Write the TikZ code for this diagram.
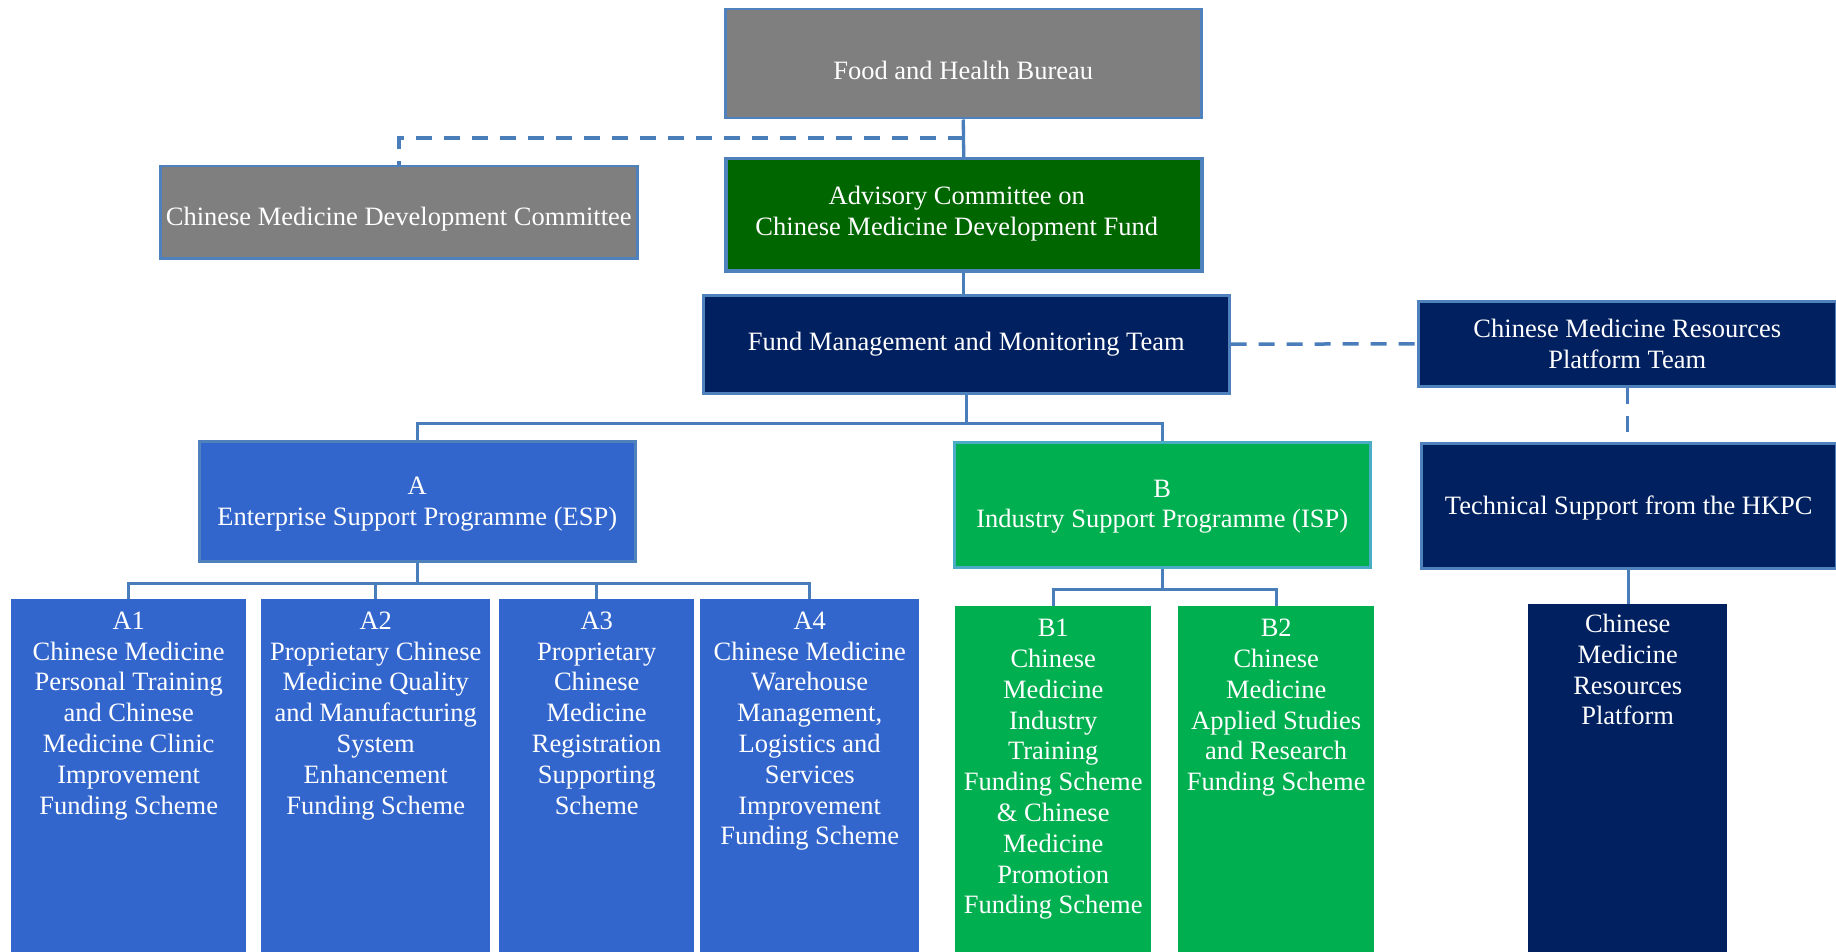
\documentclass[tikz,border=0pt]{standalone}
\usepackage{fontspec}
\setmainfont{Liberation Serif}
\usetikzlibrary{calc}
\definecolor{bordblue}{HTML}{4F81BD}
\definecolor{conn}{HTML}{4A7EBB}
\definecolor{boxgray}{HTML}{7F7F7F}
\definecolor{dkgreen}{HTML}{006600}
\definecolor{navy}{HTML}{002060}
\definecolor{royal}{HTML}{3366CC}
\definecolor{brgreen}{HTML}{00B050}
\definecolor{teal}{HTML}{4BACC6}
\tikzset{
  txt/.style={text=white, font=\fontsize{26.5pt}{30.8pt}\selectfont, align=center, inner sep=0pt},
  box/.style={txt, draw=bordblue, line width=2.5pt, anchor=north west},
  col/.style={fill=#1, anchor=north west, inner sep=0pt, draw=none},
  conline/.style={draw=conn, line width=3.3pt},
  dashline/.style={draw=conn, line width=3.5pt, dash pattern=on 16pt off 12pt},
}
\begin{document}
\begin{tikzpicture}[x=1pt,y=-1pt]
\path[use as bounding box, fill=white] (0,0) rectangle (1836,952);

% top boxes
\node[box, fill=boxgray, minimum width=476pt, minimum height=109pt] (fhb) at (724,8) {};
\node[txt] (fhbt) at ($(fhb.center)+(0,7)$) {Food and Health Bureau};
\node[box, fill=boxgray, minimum width=477pt, minimum height=92pt] (cmdc) at (159,165) {};
\node[txt] (cmdct) at ($(cmdc.center)+(0,7)$) {Chinese Medicine Development Committee};
\node[box, fill=dkgreen, line width=3.5pt, minimum width=476pt, minimum height=112pt] (adv) at (724,157) {};
\node[txt] (advt) at ($(adv.center)+(-7,-1)$) {Advisory Committee on\\Chinese Medicine Development Fund};
\node[box, fill=navy, minimum width=526pt, minimum height=98pt] (fmmt) at (702,294) {Fund Management and Monitoring Team};
\node[box, fill=navy, minimum width=418pt, minimum height=85pt] (cmrpt) at (1417,300) {Chinese Medicine Resources\\Platform Team};
\node[box, fill=navy, minimum width=415pt, minimum height=125pt] (ts) at (1420,442) {};
\node[txt] (tst) at ($(ts.center)+(0,2)$) {Technical Support from the HKPC};

% programmes
\node[box, fill=royal, minimum width=436pt, minimum height=120pt] (a) at (198,440) {};
\node[txt] (at) at ($(a.center)+(0,3)$) {A\\Enterprise Support Programme (ESP)};
\node[box, fill=brgreen, draw=teal, minimum width=416pt, minimum height=125pt] (b) at (953,441) {};
\node[txt] (bt) at ($(b.center)+(0,2)$) {B\\Industry Support Programme (ISP)};

% columns
\node[col=royal, minimum width=235pt, minimum height=353pt] (a1) at (11,599) {};
\node[col=royal, minimum width=229pt, minimum height=353pt] (a2) at (261,599) {};
\node[col=royal, minimum width=195pt, minimum height=353pt] (a3) at (499,599) {};
\node[col=royal, minimum width=219pt, minimum height=353pt] (a4) at (700,599) {};
\node[col=brgreen, minimum width=196pt, minimum height=346pt] (b1) at (955,606) {};
\node[col=brgreen, minimum width=196pt, minimum height=346pt] (b2) at (1178,606) {};
\node[col=navy, minimum width=199pt, minimum height=348pt] (cmrp) at (1528,604) {};

\node[txt, anchor=north] (a1t) at ($(a1.north)+(0,12.5)$) {A1\\Chinese Medicine\\Personal Training\\and Chinese\\Medicine Clinic\\Improvement\\Funding Scheme};
\node[txt, anchor=north] (a2t) at ($(a2.north)+(0,12.5)$) {A2\\Proprietary Chinese\\Medicine Quality\\and Manufacturing\\System\\Enhancement\\Funding Scheme};
\node[txt, anchor=north] (a3t) at ($(a3.north)+(0,12.5)$) {A3\\Proprietary\\Chinese\\Medicine\\Registration\\Supporting\\Scheme};
\node[txt, anchor=north] (a4t) at ($(a4.north)+(0,12.5)$) {A4\\Chinese Medicine\\Warehouse\\Management,\\Logistics and\\Services\\Improvement\\Funding Scheme};
\node[txt, anchor=north] (b1t) at ($(b1.north)+(0,13)$) {B1\\Chinese\\Medicine\\Industry\\Training\\Funding Scheme\\\& Chinese\\Medicine\\Promotion\\Funding Scheme};
\node[txt, anchor=north] (b2t) at ($(b2.north)+(0,13)$) {B2\\Chinese\\Medicine\\Applied Studies\\and Research\\Funding Scheme};
\node[txt, anchor=north] (cmrpt2) at ($(cmrp.north)+(0,10)$) {Chinese\\Medicine\\Resources\\Platform};

% connectors
\draw[conline] (fhb.south) -- (adv.north);
\draw[dashline] ($(fhb.south)!0.5!(adv.north)$) -| (cmdc.north);
\draw[conline] (adv.south) -- (adv.south |- fmmt.north);
\draw[conline] (fmmt.south) -- ($(fmmt.south)+(0,29)$) -| (a.north);
\draw[conline] ($(fmmt.south)+(0,29)$) -| (b.north);
\draw[dashline] (fmmt.east) -- (cmrpt.west);
\draw[dashline] (cmrpt.south) -- (cmrpt.south |- ts.north);
\draw[conline] (ts.south) -- (ts.south |- cmrp.north);

\coordinate (abar) at ($(a.south)+(0,21)$);
\draw[conline] (a.south) -- (abar);
\foreach \c in {a1,a2,a3,a4} \draw[conline] (abar) -| (\c.north);
\coordinate (bbar) at ($(b.south)+(0,21)$);
\draw[conline] (b.south) -- (bbar);
\foreach \c in {b1,b2} \draw[conline] (bbar) -| (\c.north);
\end{tikzpicture}
\end{document}
